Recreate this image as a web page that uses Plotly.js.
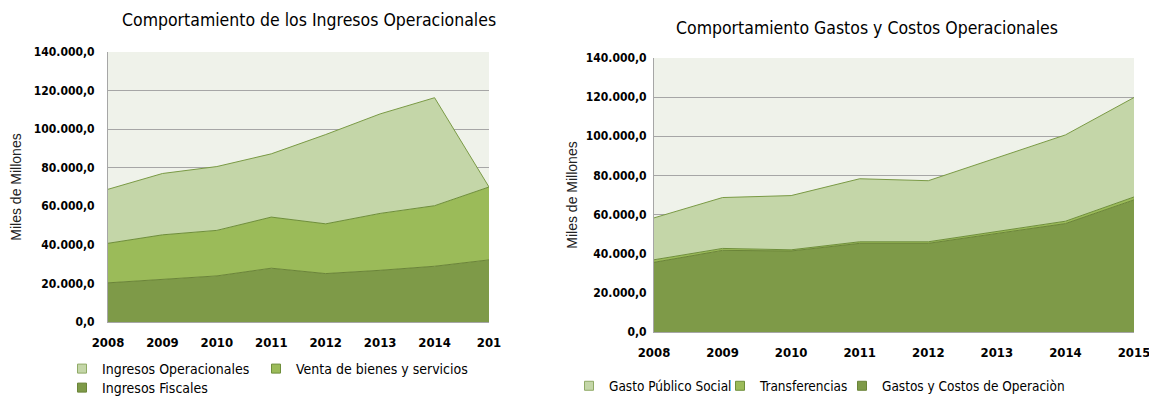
<!DOCTYPE html>
<html>
<head>
<meta charset="utf-8">
<script src="https://cdn.plot.ly/plotly-3.0.1.min.js"></script>
<style>
  html, body { margin: 0; padding: 0; background: #ffffff; }
  #chart { width: 1149px; height: 396px; }
</style>
</head>
<body>
<div id="chart"></div>
<script>
// ---- Data ----
const years = [2008, 2009, 2010, 2011, 2012, 2013, 2014, 2015];
const leftTickLabels = ['2008', '2009', '2010', '2011', '2012', '2013', '2014', '201'];
const rightTickLabels = ['2008', '2009', '2010', '2011', '2012', '2013', '2014', '2015'];

// Left chart: Comportamiento de los Ingresos Operacionales (stacked)
const ingresosFiscales = [20300, 22000, 23900, 27900, 25100, 26800, 28900, 32200];
const ventaBienesServicios = [20500, 23200, 23600, 26500, 25800, 29500, 31400, 37800];
const ingresosOperacionales = [28000, 31800, 33100, 32800, 46300, 51600, 56000, 0];

// Right chart: Comportamiento Gastos y Costos Operacionales (stacked)
const gastosCostosOperacion = [35600, 41700, 41400, 45300, 45300, 50500, 55400, 67500];
const transferencias = [1300, 1000, 600, 800, 800, 900, 1200, 1500];
const gastoPublicoSocial = [21400, 26000, 27700, 32200, 31200, 37600, 44100, 50800];

const yTicks = [0, 20000, 40000, 60000, 80000, 100000, 120000, 140000];

// ---- Styles ----
const W = 1149, H = 396;
const narrow = 'Liberation Sans Narrow, Arial Narrow, DejaVu Sans Condensed, sans-serif';
const regular = 'Liberation Sans, Arial, sans-serif';
const cLight = '#C4D6A8', cMid = '#9BBB59', cDark = '#7E9A48';
const lLight = '#7A9A45', lMid = '#6E8E3A', lDark = '#6A8438';

function px2x(p) { return p / W; }
function px2y(p) { return 1 - p / H; }

function area(x, y, name, fill, line, xa, ya, grp) {
  return {
    type: 'scatter', mode: 'lines', x: x, y: y, name: name,
    stackgroup: grp, fillcolor: fill,
    line: { color: line, width: 1 },
    xaxis: xa, yaxis: ya, showlegend: false, hoverinfo: 'x+y+name'
  };
}
// legend entry (square swatch) for a series; carries no data points of its own
function key(name, fill, line, xa, ya, leg) {
  return {
    type: 'scatter', mode: 'markers', x: [null], y: [null], name: name,
    marker: { symbol: 'square', size: 9, color: fill, line: { color: line, width: 1 } },
    xaxis: xa, yaxis: ya, legend: leg, showlegend: true, hoverinfo: 'skip'
  };
}

const data = [
  area(years, ingresosFiscales, 'Ingresos Fiscales', cDark, lDark, 'x', 'y', 'ing'),
  area(years, ventaBienesServicios, 'Venta de bienes y servicios', cMid, lMid, 'x', 'y', 'ing'),
  area(years, ingresosOperacionales, 'Ingresos Operacionales', cLight, lLight, 'x', 'y', 'ing'),
  area(years, gastosCostosOperacion, 'Gastos y Costos de Operaciòn', cDark, lDark, 'x2', 'y2', 'gas'),
  area(years, transferencias, 'Transferencias', cMid, lMid, 'x2', 'y2', 'gas'),
  area(years, gastoPublicoSocial, 'Gasto Público Social', cLight, lLight, 'x2', 'y2', 'gas'),
  key('Ingresos Operacionales', cLight, '#8FAA66', 'x', 'y', 'legend'),
  key('Venta de bienes y servicios', cMid, lMid, 'x', 'y', 'legend2'),
  key('Ingresos Fiscales', cDark, lDark, 'x', 'y', 'legend3'),
  key('Gasto Público Social', cLight, '#8FAA66', 'x2', 'y2', 'legend4'),
  key('Transferencias', cMid, lMid, 'x2', 'y2', 'legend5'),
  key('Gastos y Costos de Operaciòn', cDark, lDark, 'x2', 'y2', 'legend6')
];

const xTickFont = { family: narrow, size: 13, color: '#000', weight: 'bold' };
const yTickFont = { family: narrow, size: 12, color: '#000', weight: 'bold' };
const gridC = '#A6A6A6';

function xAxis(domain, labels, anchor) {
  return {
    domain: domain, anchor: anchor, type: 'linear',
    range: [2008, 2015], tickvals: years, ticktext: labels,
    showgrid: false, zeroline: false, showline: true, linecolor: gridC, linewidth: 1,
    ticks: '', tickfont: xTickFont, ticklabelstandoff: 8,
    ticklabeloverflow: 'allow', fixedrange: true, automargin: false
  };
}
function yAxis(domain, anchor, labelGap, standoff) {
  return {
    domain: domain, anchor: anchor, range: [0, 140000], tickvals: yTicks,
    tickformat: ',.1f', showgrid: true, gridcolor: gridC, gridwidth: 1,
    zeroline: false, showline: true, linecolor: gridC, linewidth: 1,
    ticks: '', tickfont: yTickFont, ticklabelstandoff: labelGap, fixedrange: true, automargin: false,
    title: { text: 'Miles de Millones', font: { family: regular, size: 14, color: '#222' }, standoff: standoff }
  };
}

function leg(xpx, ypx, size) {
  return {
    xref: 'container', yref: 'container',
    x: px2x(xpx), y: px2y(ypx), xanchor: 'left', yanchor: 'middle',
    orientation: 'h', bgcolor: 'rgba(0,0,0,0)',
    font: { family: narrow, size: size, color: '#000' }
  };
}

const layout = {
  width: W, height: H,
  margin: { l: 0, r: 0, t: 0, b: 0, pad: 0, autoexpand: false },
  paper_bgcolor: '#ffffff', plot_bgcolor: '#EFF2EA',
  separators: ',.',
  showlegend: true,
  xaxis: xAxis([px2x(108), px2x(489)], leftTickLabels, 'y'),
  yaxis: yAxis([px2y(322), px2y(52)], 'x', 10, 8),
  xaxis2: xAxis([px2x(654), px2x(1134)], rightTickLabels, 'y2'),
  yaxis2: yAxis([px2y(332), px2y(58)], 'x2', 4, 4),
  legend: leg(62, 369, 14),
  legend2: leg(256, 369, 14),
  legend3: leg(62, 388, 14),
  legend4: leg(569, 386, 13.5),
  legend5: leg(720, 386, 13.5),
  legend6: leg(842, 386, 13.5),
  annotations: [
    { text: 'Comportamiento de los Ingresos Operacionales', xref: 'paper', yref: 'paper',
      x: px2x(309), y: px2y(20), xanchor: 'center', yanchor: 'middle', showarrow: false,
      font: { family: narrow, size: 17.5, color: '#000' } },
    { text: 'Comportamiento Gastos y Costos Operacionales', xref: 'paper', yref: 'paper',
      x: px2x(867), y: px2y(28), xanchor: 'center', yanchor: 'middle', showarrow: false,
      font: { family: narrow, size: 17.5, color: '#000' } }
  ]
};

Plotly.newPlot('chart', data, layout, { displayModeBar: false, staticPlot: true });
</script>
</body>
</html>
